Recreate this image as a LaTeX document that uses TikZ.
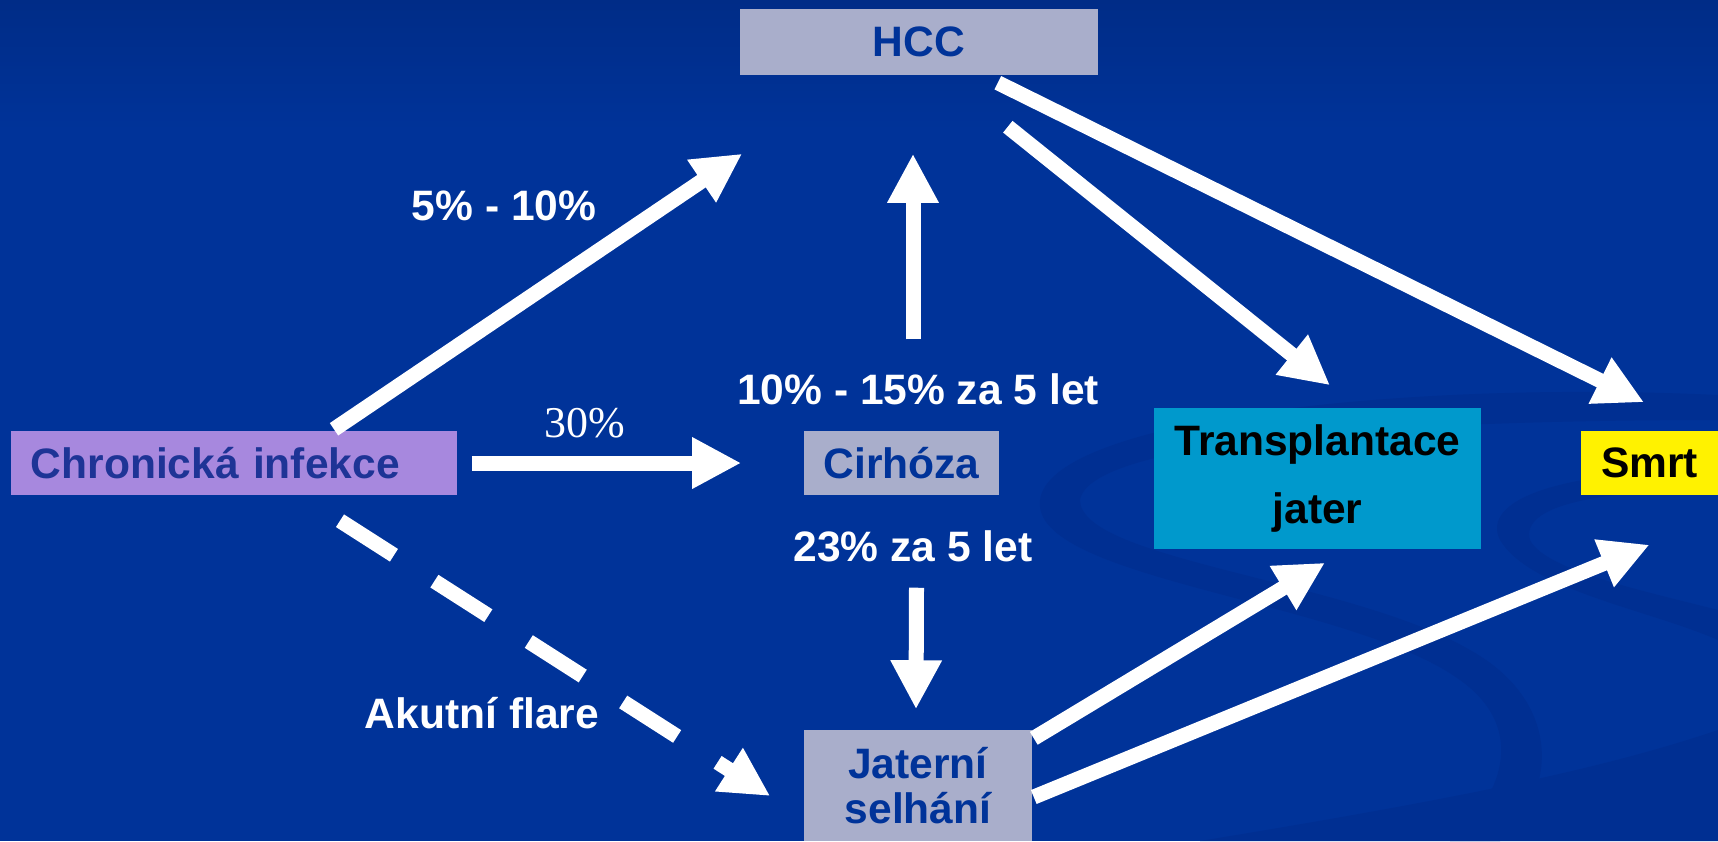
\documentclass[tikz,border=0pt]{standalone}
\usepackage{fontspec}
\setmainfont{Liberation Sans}
\newfontfamily\timesfont{Liberation Serif}
\usetikzlibrary{arrows.meta,calc}

\definecolor{bgtop}{RGB}{0,44,135}
\definecolor{bgmain}{RGB}{0,51,153}
\definecolor{bgswoosh}{RGB}{0,47,146}
\definecolor{lavender}{RGB}{167,136,222}
\definecolor{greybox}{RGB}{169,174,203}
\definecolor{cyanbox}{RGB}{0,153,204}
\definecolor{boxtext}{RGB}{0,51,153}
\definecolor{chrontext}{RGB}{30,52,150}

\begin{document}
\begin{tikzpicture}[
    x=0.01cm, y=-0.01cm,
    box/.style={rectangle, inner sep=0pt, align=center, text=boxtext,
                font=\bfseries\fontsize{12.1pt}{14pt}\selectfont},
    ratetext/.style={anchor=base, text=white, inner sep=0pt,
                font=\bfseries\fontsize{12.1pt}{14pt}\selectfont},
    bigarrow/.style={draw=white, line width=0.15cm, -{Triangle[length=0.49cm, width=0.48cm]}},
]

% Background
\useasboundingbox (0,0) rectangle (1718,841);
\fill[bgmain] (0,0) rectangle (1718,841);
\shade[top color=bgtop, bottom color=bgmain] (0,0) rectangle (1718,130);

% Swooshes
\fill[bgswoosh] (1718,395) .. controls (1400,380) and (1050,420) .. (1040,500)
  .. controls (1030,580) and (1350,600) .. (1460,680)
  .. controls (1530,730) and (1500,800) .. (1450,841) -- (1500,841)
  .. controls (1560,790) and (1560,700) .. (1470,650)
  .. controls (1350,580) and (1080,560) .. (1080,500)
  .. controls (1090,440) and (1400,420) .. (1718,420) -- cycle;
\fill[bgswoosh] (1718,470) .. controls (1560,470) and (1480,500) .. (1500,540)
  .. controls (1530,590) and (1650,610) .. (1718,640) -- (1718,610)
  .. controls (1640,590) and (1545,570) .. (1530,540)
  .. controls (1520,505) and (1600,490) .. (1718,490) -- cycle;
\fill[bgswoosh] (1200,841) .. controls (1450,800) and (1600,770) .. (1718,730) -- (1718,841) -- cycle;

% Boxes
\node[box, fill=lavender, text=chrontext, minimum width=4.46cm, minimum height=0.64cm,
      text width=4.06cm, align=left] (chron) at (234,463) {Chronická infekce};
\node[box, fill=greybox, minimum width=3.58cm, minimum height=0.66cm] (hcc) at (919,42) {HCC};
\node[box, fill=greybox, minimum width=1.95cm, minimum height=0.64cm] (cirh) at (901.5,463) {Cirhóza};
\node[box, fill=greybox, minimum width=2.28cm, minimum height=1.11cm,
      font=\bfseries\fontsize{12.1pt}{12.9pt}\selectfont] (jat) at (918,785.5) {Jaterní\\selhání};
\node[box, fill=cyanbox, text=black, minimum width=3.27cm, minimum height=1.41cm,
      font=\bfseries\fontsize{12.1pt}{19.6pt}\selectfont] (transp) at (1317.5,478.5) {Transplantace\\jater};
\node[box, fill=yellow, text=black, minimum width=1.37cm, minimum height=0.64cm] (smrt) at (1649.5,463) {Smrt};

% Arrows
\draw[bigarrow] ($(chron.north)+(100,-1)$) -- ($(hcc.south west)+(3,78)$);
\draw[bigarrow] ($(chron.east)+(14,0)$) -- ($(cirh.west)+(-62,0)$);
\draw[bigarrow] ($(cirh.north)+(11.5,-91)$) -- ($(hcc.south)+(-6,78)$);
\draw[bigarrow] ($(hcc.south east)+(-101,7)$) -- ($(smrt.north)+(-5.5,-28)$);
\draw[bigarrow] ($(hcc.south east)+(-91,51)$) -- ($(transp.north)+(12.5,-22)$);
\draw[bigarrow] ($(cirh.south)+(15,92)$) -- ($(jat.north)+(-2,-20)$);
\draw[bigarrow] ($(jat.north east)+(1,9)$) -- ($(transp.south)+(7.5,13)$);
\draw[bigarrow] ($(jat.east)+(1,11.5)$) -- ($(smrt.south)+(0,49)$);
\draw[bigarrow, dash pattern=on 0.64cm off 0.48cm] ($(chron.south)+(106,25)$) -- ($(jat.west)+(-33,10.5)$);

% Rates
\node[ratetext] (r510) at (504,220) {5\% - 10\%};
\node[ratetext, font=\timesfont\fontsize{12.5pt}{14pt}\selectfont] (r30) at (585,437) {30\%};
\node[ratetext] (r1015) at (918,404) {10\% - 15\% za 5 let};
\node[ratetext] (r23) at (913,561) {23\% za 5 let};
\node[ratetext] (rflare) at (482,728) {Akutní flare};

\end{tikzpicture}
\end{document}
